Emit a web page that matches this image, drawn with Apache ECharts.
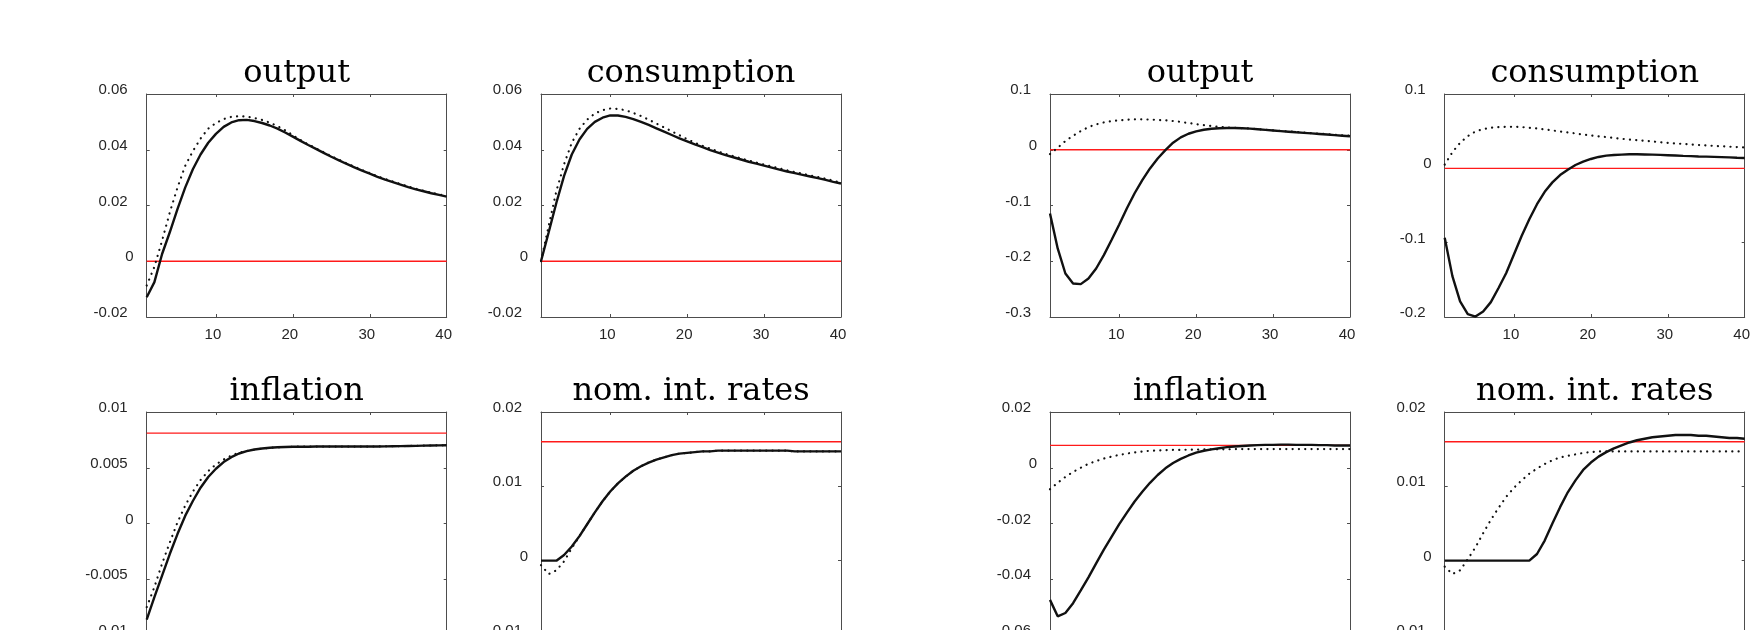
<!DOCTYPE html>
<html><head><meta charset="utf-8">
<script src="https://cdn.jsdelivr.net/npm/echarts@6/dist/echarts.min.js"></script>
<style>html,body{margin:0;padding:0;background:#fff}#c{width:1758px;height:630px}</style>
</head><body><div id="c"></div>
<script>
const periods = [1,2,3,4,5,6,7,8,9,10,11,12,13,14,15,16,17,18,19,20,21,22,23,24,25,26,27,28,29,30,31,32,33,34,35,36,37,38,39,40];
const xTicks = [10,20,30,40];
const titles = ['output','consumption','output','consumption','inflation','nom. int. rates','inflation','nom. int. rates'];

// left block (top row)
const outputA_solid = [-0.0129,-0.0075,0.0026,0.0104,0.0187,0.0264,0.0330,0.0383,0.0425,0.0457,0.0482,0.0498,0.0506,0.0507,0.0503,0.0496,0.0487,0.0476,0.0462,0.0447,0.0432,0.0417,0.0403,0.0389,0.0375,0.0362,0.0349,0.0337,0.0325,0.0314,0.0303,0.0293,0.0284,0.0275,0.0266,0.0258,0.0251,0.0244,0.0238,0.0232];
const outputA_dotted = [-0.0087,-0.0020,0.0074,0.0175,0.0264,0.0342,0.0395,0.0440,0.0476,0.0496,0.0510,0.0518,0.0520,0.0519,0.0514,0.0507,0.0497,0.0485,0.0470,0.0452,0.0435,0.0419,0.0405,0.0391,0.0377,0.0364,0.0351,0.0339,0.0327,0.0316,0.0305,0.0295,0.0286,0.0277,0.0268,0.0260,0.0253,0.0246,0.0240,0.0234];
const consA_solid = [0.0000,0.0104,0.0210,0.0306,0.0383,0.0437,0.0475,0.0500,0.0515,0.0523,0.0523,0.0518,0.0510,0.0500,0.0489,0.0477,0.0465,0.0453,0.0441,0.0430,0.0419,0.0409,0.0399,0.0390,0.0381,0.0373,0.0365,0.0357,0.0350,0.0343,0.0336,0.0329,0.0322,0.0316,0.0310,0.0304,0.0298,0.0292,0.0285,0.0279];
const consA_dotted = [0.0000,0.0127,0.0252,0.0348,0.0425,0.0475,0.0508,0.0530,0.0542,0.0548,0.0546,0.0542,0.0532,0.0521,0.0508,0.0494,0.0480,0.0466,0.0452,0.0438,0.0425,0.0414,0.0404,0.0394,0.0385,0.0377,0.0369,0.0361,0.0354,0.0347,0.0340,0.0333,0.0326,0.0320,0.0314,0.0308,0.0302,0.0296,0.0289,0.0282];
// right block (top row)
const outputB_solid = [-0.1144,-0.177,-0.222,-0.240,-0.241,-0.231,-0.213,-0.189,-0.162,-0.134,-0.105,-0.078,-0.0545,-0.0335,-0.0156,-0.0006,0.0126,0.0222,0.0287,0.0329,0.0359,0.0377,0.0385,0.0390,0.0390,0.0386,0.0378,0.0368,0.0357,0.0346,0.0335,0.0324,0.0313,0.0303,0.0293,0.0283,0.0273,0.0263,0.0252,0.0241];
const outputB_dotted = [-0.0078,0.0036,0.0156,0.0251,0.0335,0.0407,0.0455,0.0490,0.0515,0.0527,0.0539,0.0545,0.0545,0.0541,0.0535,0.0527,0.0515,0.0499,0.0480,0.0460,0.0442,0.0425,0.0411,0.0400,0.0393,0.0388,0.0381,0.0371,0.0360,0.0349,0.0338,0.0328,0.0318,0.0308,0.0298,0.0289,0.0279,0.0269,0.0259,0.0250];
const consB_solid = [-0.0934,-0.145,-0.179,-0.196,-0.1994,-0.1926,-0.180,-0.161,-0.1407,-0.116,-0.0911,-0.0686,-0.0483,-0.0316,-0.0189,-0.0090,-0.0018,0.0045,0.0090,0.0126,0.0153,0.0171,0.0180,0.0185,0.0189,0.0189,0.0187,0.0185,0.0181,0.0177,0.0173,0.0168,0.0164,0.0160,0.0157,0.0154,0.0151,0.0147,0.0143,0.0140];
const consB_dotted = [0.0050,0.0217,0.0343,0.0433,0.0496,0.0528,0.0546,0.0555,0.0559,0.0559,0.0555,0.0546,0.0537,0.0523,0.0510,0.0496,0.0483,0.0469,0.0455,0.0442,0.0431,0.0420,0.0408,0.0397,0.0388,0.0379,0.0370,0.0361,0.0352,0.0343,0.0335,0.0328,0.0320,0.0314,0.0308,0.0302,0.0297,0.0291,0.0286,0.0280];
// left block (bottom row)
const inflA_solid = [-0.00863,-0.0066,-0.00467,-0.00274,-0.00095,0.00068,0.00202,0.00321,0.00417,0.00491,0.00551,0.00595,0.00628,0.00649,0.00664,0.00673,0.00679,0.00684,0.00686,0.00688,0.00689,0.00689,0.0069,0.0069,0.0069,0.0069,0.0069,0.0069,0.0069,0.0069,0.00691,0.00692,0.00693,0.00694,0.00695,0.00696,0.00698,0.0070,0.00701,0.00702];
const inflA_dotted = [-0.0075,-0.0057,-0.0036,-0.0017,0.0001,0.0016,0.00286,0.0039,0.0047,0.0053,0.00574,0.0061,0.00634,0.00651,0.00662,0.00671,0.00678,0.00683,0.00686,0.00688,0.00689,0.00689,0.0069,0.0069,0.0069,0.0069,0.0069,0.0069,0.0069,0.0069,0.00691,0.00692,0.00693,0.00694,0.00695,0.00696,0.00698,0.0070,0.00701,0.00702];
const rateA_solid = [0,0,0,0.00076,0.0019,0.0033,0.0049,0.0065,0.0080,0.0093,0.0104,0.0113,0.0121,0.0127,0.0132,0.0136,0.0139,0.0142,0.0144,0.0145,0.0146,0.0147,0.0147,0.0148,0.0148,0.0148,0.0148,0.0148,0.0148,0.0148,0.0148,0.0148,0.0148,0.0147,0.0147,0.0147,0.0147,0.0147,0.0147,0.0147];
const rateA_dotted = [-0.0006,-0.0018,-0.0013,-0.0001,0.0017,0.0033,0.0049,0.0065,0.0080,0.0093,0.0104,0.0113,0.0121,0.0127,0.0132,0.0136,0.0139,0.0142,0.0144,0.0145,0.0146,0.0147,0.0147,0.0148,0.0148,0.0148,0.0148,0.0148,0.0148,0.0148,0.0148,0.0148,0.0148,0.0147,0.0147,0.0147,0.0147,0.0147,0.0147,0.0147];
// right block (bottom row)
const inflB_solid = [-0.0474,-0.0533,-0.0521,-0.0486,-0.0440,-0.0393,-0.0343,-0.0294,-0.0248,-0.0202,-0.0161,-0.0121,-0.0086,-0.0054,-0.0026,-0.0002,0.0017,0.0032,0.0044,0.0054,0.0061,0.0066,0.0070,0.0074,0.0076,0.0078,0.0080,0.0081,0.0082,0.0082,0.0083,0.0083,0.0082,0.0082,0.0082,0.0081,0.0081,0.0080,0.0080,0.0080];
const inflB_dotted = [-0.0077,-0.0054,-0.0033,-0.0015,0.0000,0.0014,0.0024,0.0033,0.0040,0.0046,0.0051,0.0055,0.0058,0.0061,0.0062,0.0063,0.0064,0.0064,0.0065,0.0065,0.0066,0.0066,0.0066,0.0066,0.0067,0.0067,0.0067,0.0067,0.0067,0.0067,0.0067,0.0067,0.0067,0.0067,0.0067,0.0067,0.0067,0.0067,0.0067,0.0067];
const rateB_solid = [0,0,0,0,0,0,0,0,0,0,0,0,0.0009,0.0027,0.0050,0.0072,0.0092,0.0108,0.0122,0.0132,0.0140,0.0146,0.0151,0.0155,0.0159,0.0162,0.0164,0.0166,0.0167,0.0168,0.0169,0.0169,0.0169,0.0168,0.0168,0.0167,0.0166,0.0165,0.0165,0.0164];
const rateB_dotted = [-0.0008,-0.0018,-0.0013,0.0002,0.0018,0.0037,0.0055,0.0071,0.0086,0.0098,0.0108,0.0117,0.0124,0.0130,0.0135,0.0139,0.0141,0.0143,0.0145,0.0146,0.0147,0.0147,0.0147,0.0147,0.0147,0.0147,0.0147,0.0147,0.0147,0.0147,0.0147,0.0147,0.0147,0.0147,0.0147,0.0147,0.0147,0.0147,0.0147,0.0147];

const refLevels = [0,0,0,0,0.0081,0.016,0.008,0.016];
const yMin  = [-0.02,-0.02,-0.3,-0.2,-0.01,-0.01,-0.06,-0.01];
const yMax  = [0.06,0.06,0.1,0.1,0.01,0.02,0.02,0.02];
const yStep = [0.02,0.02,0.1,0.1,0.005,0.01,0.02,0.01];

const solidSeries  = [outputA_solid, consA_solid, outputB_solid, consB_solid, inflA_solid, rateA_solid, inflB_solid, rateB_solid];
const dottedSeries = [outputA_dotted, consA_dotted, outputB_dotted, consB_dotted, inflA_dotted, rateA_dotted, inflB_dotted, rateB_dotted];

// layout
const gridLefts = [146.7, 541, 1050, 1444.7];
const gridTops = [94, 412];
const gridW = 300, gridH = 223;
const axisColor = '#4d4d4d', labelColor = '#262626';
const labelFont = '"Liberation Sans", Arial, sans-serif';
const titleFont = '"DejaVu Serif", serif';

const grids = [], xAxes = [], yAxes = [], series = [], graphics = [];
const pairs = arr => arr.map((v, k) => [periods[k], v]);
const fmtY = v => { const s = String(+(+v).toFixed(6)); return s === '0' ? '{z|0}' : '{n|' + s + '}'; };

for (let i = 0; i < 8; i++) {
  const col = i % 4, row = Math.floor(i / 4);
  const left = gridLefts[col], top = gridTops[row];
  grids.push({ left: left, top: top, width: gridW, height: gridH, show: false, containLabel: false, outerBoundsMode: 'none' });
  const xBase = {
    type: 'value', gridIndex: i, min: 1, max: 40,
    axisLine: { show: true, onZero: false, lineStyle: { color: axisColor, width: 1 } },
    axisTick: { show: true, inside: true, length: 3, customValues: xTicks, lineStyle: { color: axisColor, width: 1 } },
    splitLine: { show: false }
  };
  xAxes.push(Object.assign({}, xBase, { position: 'bottom',
    axisLabel: { customValues: xTicks, color: labelColor, fontFamily: labelFont, fontSize: 15, margin: 10, padding: [0, 6, 0, 0] } }));
  xAxes.push(Object.assign({}, xBase, { position: 'top', axisLabel: { show: false } }));
  const yBase = {
    type: 'value', gridIndex: i, min: yMin[i], max: yMax[i], interval: yStep[i],
    axisLine: { show: true, onZero: false, lineStyle: { color: axisColor, width: 1 } },
    axisTick: { show: true, inside: true, length: 3, lineStyle: { color: axisColor, width: 1 } },
    splitLine: { show: false }
  };
  yAxes.push(Object.assign({}, yBase, { position: 'left',
    axisLabel: { color: labelColor, fontFamily: labelFont, fontSize: 15, margin: 13, formatter: fmtY,
      rich: { z: { color: labelColor, fontFamily: labelFont, fontSize: 15, padding: [0, 0, 8, 0] },
              n: { color: labelColor, fontFamily: labelFont, fontSize: 15, padding: [0, 6, 8, 0] } } } }));
  yAxes.push(Object.assign({}, yBase, { position: 'right', axisLabel: { show: false } }));

  series.push({ type: 'line', xAxisIndex: 2 * i, yAxisIndex: 2 * i, data: [[periods[0], refLevels[i]], [periods[periods.length - 1], refLevels[i]]],
    symbol: 'none', lineStyle: { color: '#ff1a1a', width: 1.3 }, z: 1, silent: true });
  series.push({ type: 'line', xAxisIndex: 2 * i, yAxisIndex: 2 * i, data: pairs(dottedSeries[i]),
    symbol: 'none', lineStyle: { color: '#111', width: 2.2, type: [0.1, 6.2], cap: 'round' }, z: 2, silent: true });
  series.push({ type: 'line', xAxisIndex: 2 * i, yAxisIndex: 2 * i, data: pairs(solidSeries[i]),
    symbol: 'none', lineStyle: { color: '#111', width: 2.4 }, z: 3, silent: true });

  graphics.push({ type: 'text', x: left + gridW / 2, y: top - 20,
    style: { text: titles[i], font: '32px ' + titleFont, fill: '#000', align: 'center', verticalAlign: 'middle' } });
}

const chart = echarts.init(document.getElementById('c'), null, { renderer: 'canvas' });
chart.setOption({
  animation: false,
  backgroundColor: '#fff',
  grid: grids, xAxis: xAxes, yAxis: yAxes, series: series, graphic: graphics
});
</script></body></html>
